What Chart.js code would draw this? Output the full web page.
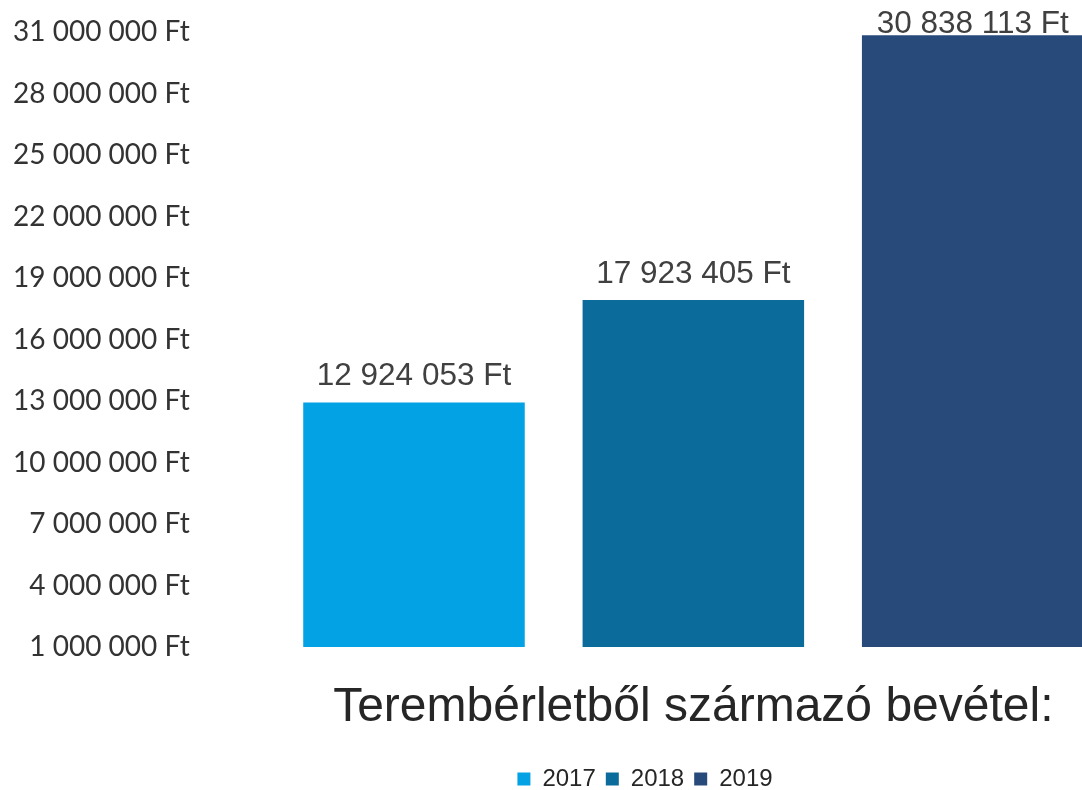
<!DOCTYPE html>
<html>
<head>
<meta charset="utf-8">
<script src="https://cdn.jsdelivr.net/npm/chart.js@4.4.1/dist/chart.umd.min.js"></script>
<style>
html,body{margin:0;padding:0;background:#fff;overflow:hidden;width:1082px;height:790px;}
#wrap{width:1184px;height:790px;}
canvas{display:block;}
</style>
</head>
<body>
<div id="wrap"><canvas id="c" width="1184" height="790"></canvas></div>
<script>
const categories = ['Terembérletből származó bevétel:'];
const years = ['2017', '2018', '2019'];
const values2017 = [12924053];
const values2018 = [17923405];
const values2019 = [30838113];
const yMin = 1000000;
const yMax = 31000000;
const yStep = 3000000;
const barColors = ['#03A2E5', '#0B6C9B', '#284A7B'];

function fmt(v) {
  return String(Math.round(v)).replace(/\B(?=(\d{3})+(?!\d))/g, ' ') + ' Ft';
}

const seriesValues = [values2017, values2018, values2019];

const dataLabels = {
  id: 'dataLabels',
  afterDatasetsDraw(chart) {
    const ctx = chart.ctx;
    ctx.save();
    ctx.font = '31.5px "Liberation Sans", Arial, sans-serif';
    ctx.fillStyle = '#404040';
    ctx.textAlign = 'center';
    ctx.textBaseline = 'middle';
    chart.data.datasets.forEach((ds, i) => {
      const meta = chart.getDatasetMeta(i);
      meta.data.forEach((bar, j) => {
        const y = Math.max(bar.y - 26, 24);
        ctx.fillText(fmt(ds.data[j]), bar.x, y);
      });
    });
    ctx.restore();
  }
};

const legendShift = {
  id: 'legendShift',
  afterLayout(chart) {
    const lg = chart.legend;
    if (lg) {
      lg.left += 53; lg.right += 53;
      lg.top += 14; lg.bottom += 14;
    }
  }
};

new Chart(document.getElementById('c'), {
  type: 'bar',
  data: {
    labels: categories,
    datasets: years.map((y, i) => ({
      label: y,
      data: seriesValues[i],
      backgroundColor: barColors[i],
      borderWidth: 0,
      categoryPercentage: 0.854,
      barPercentage: 0.793
    }))
  },
  options: {
    responsive: false,
    animation: false,
    devicePixelRatio: 1,
    layout: { padding: { top: 32, left: 0, right: 0, bottom: 3 } },
    scales: {
      y: {
        min: yMin,
        max: yMax,
        ticks: {
          stepSize: yStep,
          padding: 13,
          color: '#333333',
          font: { family: 'Lato, "Open Sans", sans-serif', size: 28 },
          callback: (v) => fmt(v)
        },
        grid: { display: false, drawTicks: false },
        border: { display: false }
      },
      x: {
        afterFit: (scale) => { scale.height = 96; },
        ticks: {
          padding: 32,
          color: '#262626',
          font: { family: '"Liberation Sans", Arial, sans-serif', size: 48, lineHeight: 1.2 }
        },
        grid: { display: false, drawTicks: false },
        border: { display: false }
      }
    },
    plugins: {
      legend: {
        position: 'bottom',
        labels: {
          boxWidth: 13,
          boxHeight: 13,
          padding: 10,
          color: '#262626',
          font: { family: '"Liberation Sans", Arial, sans-serif', size: 24 }
        }
      },
      tooltip: { enabled: false }
    }
  },
  plugins: [dataLabels, legendShift]
});
</script>
</body>
</html>
